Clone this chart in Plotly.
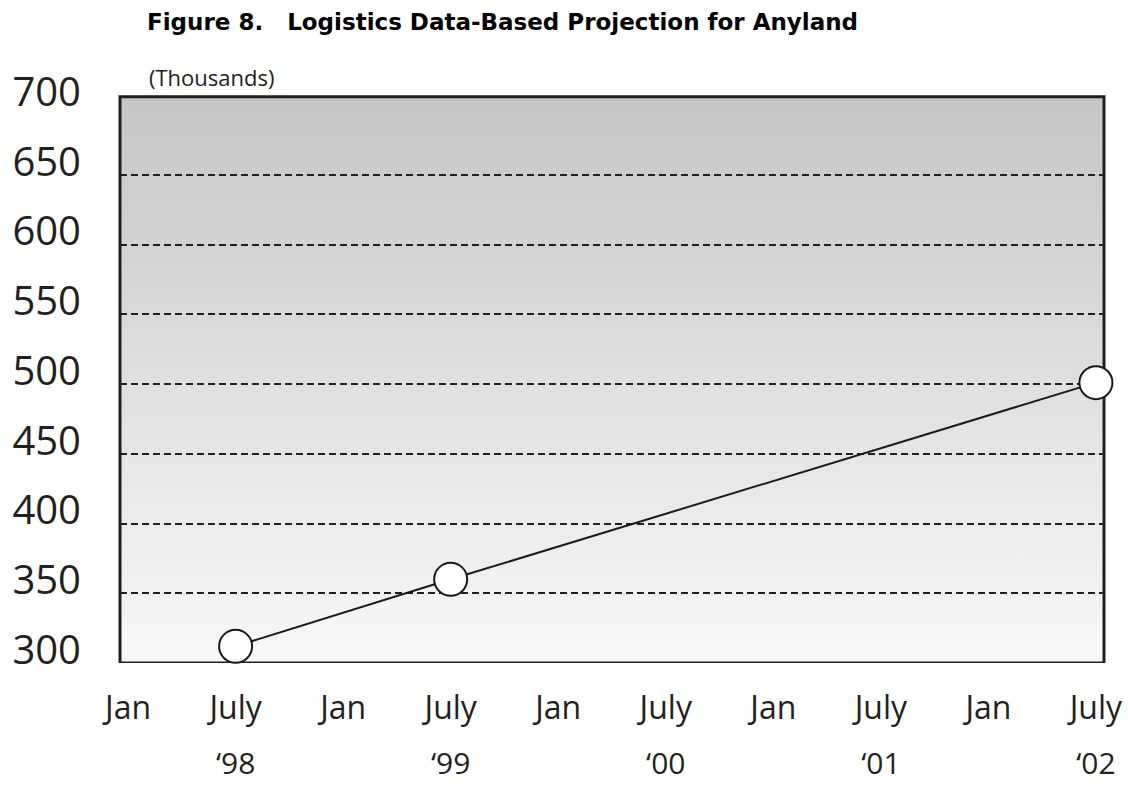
import base64
import plotly.graph_objects as go

# months counted from Jan 1998
months = [6, 18, 54]
values = [312, 360, 501]

tick_pos = [0, 6, 12, 18, 24, 30, 36, 42, 48, 54]
tick_text = ["Jan", "July", "Jan", "July", "Jan", "July", "Jan", "July", "Jan", "July"]
year_pos = [6, 18, 30, 42, 54]
year_text = ["\u201898", "\u201899", "\u201800", "\u201801", "\u201802"]

grid_vals = [350, 400, 450, 500, 550, 600, 650]
label_vals = [300, 350, 400, 450, 500, 550, 600, 650, 700]

x_range = [-0.45, 54.45]
y_range = [300, 718]     # axis domain reaches a bit above the frame
frame_top = 706          # top edge of the boxed panel
label_shift = 9.5        # y labels sit on top of their gridlines

# vertical grey gradient for the plot panel, as an svg image
svg = ('<svg xmlns="http://www.w3.org/2000/svg" width="100" height="100" preserveAspectRatio="none">'
       '<defs><linearGradient id="g" x1="0" y1="0" x2="0" y2="1">'
       '<stop offset="0" stop-color="#c4c5c7"/><stop offset="0.5" stop-color="#dfdfe0"/>'
       '<stop offset="1" stop-color="#f8f8f8"/></linearGradient></defs>'
       '<rect width="100" height="100" fill="url(#g)"/></svg>')
bg_src = "data:image/svg+xml;base64," + base64.b64encode(svg.encode()).decode()

fig = go.Figure()

fig.add_trace(go.Scatter(
    x=months, y=values, mode="lines+markers",
    line=dict(color="#1a1a1a", width=2),
    marker=dict(size=33, color="white", line=dict(color="#1a1a1a", width=2)),
    cliponaxis=False, showlegend=False,
))
# invisible trace so the secondary (label) axes get drawn
fig.add_trace(go.Scatter(
    x=year_pos, y=label_vals[:5], xaxis="x2", yaxis="y2",
    mode="markers", marker=dict(opacity=0), hoverinfo="skip", showlegend=False,
))

fig.update_layout(
    width=1134, height=788,
    paper_bgcolor="white", plot_bgcolor="rgba(0,0,0,0)",
    margin=dict(l=120, r=30, t=80, b=125),
    font=dict(family="Open Sans", color="#231f20"),
    title=dict(text="<b>Figure 8.   Logistics Data-Based Projection for Anyland</b>",
               xref="container", x=147 / 1134, xanchor="left",
               yref="container", y=1 - 22 / 788, yanchor="middle",
               font=dict(family="DejaVu Sans", size=23, color="#000")),
    images=[dict(source=bg_src, xref="paper", yref="y", x=0, y=frame_top,
                 sizex=1, sizey=frame_top - y_range[0], xanchor="left", yanchor="top",
                 sizing="stretch", layer="below")],
    shapes=[dict(type="rect", xref="paper", yref="y", x0=0, x1=1,
                 y0=y_range[0], y1=frame_top, layer="between",
                 line=dict(color="#231f20", width=3), fillcolor="rgba(0,0,0,0)")],
    xaxis=dict(range=x_range, tickvals=tick_pos, ticktext=tick_text,
               showgrid=False, zeroline=False, ticks="", automargin=False,
               showline=False, ticklabelstandoff=23,
               tickfont=dict(family="Open Sans", size=32, color="#231f20")),
    xaxis2=dict(range=x_range, overlaying="x", anchor="y", side="bottom",
                tickvals=year_pos, ticktext=year_text, automargin=False,
                showgrid=False, zeroline=False, ticks="", showline=False,
                ticklabelstandoff=80,
                tickfont=dict(family="Open Sans", size=30, color="#231f20")),
    yaxis=dict(range=y_range, tickvals=grid_vals, showticklabels=False,
               showgrid=True, gridcolor="#231f20", griddash="7px,4px", gridwidth=1.8,
               zeroline=False, ticks="", automargin=False, showline=False),
    yaxis2=dict(range=[y_range[0] - label_shift, y_range[1] - label_shift],
                overlaying="y", anchor="x", side="left",
                tickvals=label_vals, showgrid=False, zeroline=False, ticks="",
                automargin=False, showline=False, ticklabelstandoff=38,
                tickfont=dict(family="Open Sans", size=40, color="#231f20")),
    annotations=[dict(text="(Thousands)", xref="paper", yref="paper",
                      x=27 / 984, y=(663 - 77) / 583, xanchor="left", yanchor="middle",
                      showarrow=False,
                      font=dict(family="Open Sans", size=22, color="#231f20"))],
)

# drop the default 8px page margin so the figure fills the window exactly
fig.write_html("out.html", config={"displayModeBar": False},
               post_script="document.body.style.margin='0px';")
